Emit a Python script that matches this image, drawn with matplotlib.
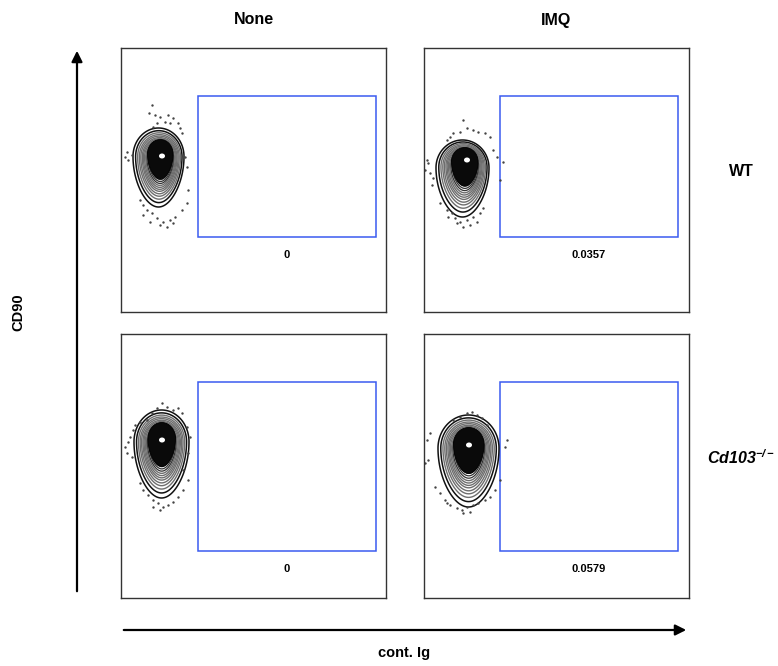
import numpy as np
import matplotlib.pyplot as plt
from matplotlib.patches import Rectangle, Polygon, Ellipse

plt.rcParams['font.family'] = ['Liberation Sans', 'DejaVu Sans']
plt.rcParams['font.weight'] = 'bold'
plt.rcParams['mathtext.fontset'] = 'custom'
plt.rcParams['mathtext.it'] = 'Liberation Sans:bold:italic'
plt.rcParams['mathtext.rm'] = 'Liberation Sans:bold:italic'

# panel layout info (columns / rows)
col_labels = ['None', 'IMQ']
row_labels = ['WT', r'$\mathit{Cd103}^{-/-}$']
pct_labels = [['0', '0.0357'], ['0', '0.0579']]

# gate boxes in panel units (x0, y0, x1, y1), y measured from panel top
gates = [[(77, 48, 255, 189), (76, 48, 254, 189)],
         [(77, 48, 255, 217), (76, 48, 254, 217)]]

# outer contour of the population: (x_left, x_right, y_top, y_bottom)
outer = [[(12, 63, 80, 159), (12, 65, 92, 169)],
         [(13, 68, 76, 164), (14, 75, 81, 173)]]
# densest point of the population
core = [[(41, 110), (43, 114)],
        [(41, 108), (45, 113)]]

# outlier events around each population
dots_tl = [(31, 57), (28, 65), (34, 67), (39, 69), (47, 67), (52, 70), (44, 74), (49, 75),
           (57, 75), (36, 75), (32, 79), (59, 80), (61, 85), (6, 104), (4, 109), (7, 112),
           (11, 107), (64, 109), (66, 119), (19, 152), (22, 157), (26, 162), (31, 165),
           (36, 170), (42, 174), (49, 172), (54, 169), (61, 162), (66, 155), (39, 177),
           (46, 179), (29, 174), (22, 167), (52, 175), (67, 142)]
dots_tr = [(39, 72), (29, 85), (36, 84), (43, 80), (49, 82), (54, 84), (61, 85), (66, 89),
           (26, 89), (23, 92), (3, 112), (4, 115), (1, 122), (6, 125), (9, 130), (8, 137),
           (69, 102), (73, 109), (76, 132), (79, 114), (16, 155), (23, 162), (28, 165),
           (31, 170), (36, 174), (43, 172), (49, 169), (56, 165), (59, 160), (39, 179),
           (46, 177), (33, 175), (24, 169), (53, 174)]
dots_bl = [(41, 69), (46, 73), (36, 74), (52, 76), (57, 74), (61, 79), (31, 79), (26, 86),
           (19, 88), (14, 91), (12, 96), (9, 103), (7, 108), (4, 113), (6, 119), (11, 123),
           (66, 93), (69, 103), (67, 119), (62, 136), (19, 149), (22, 156), (27, 161),
           (32, 166), (37, 169), (42, 173), (47, 171), (52, 168), (57, 163), (62, 156),
           (39, 176), (32, 173), (67, 146)]
dots_br = [(43, 79), (48, 78), (53, 81), (36, 83), (29, 86), (58, 84), (63, 91), (6, 99),
           (3, 106), (4, 126), (1, 129), (83, 106), (81, 113), (16, 159), (21, 166),
           (26, 171), (33, 174), (38, 176), (43, 173), (49, 171), (54, 169), (61, 166),
           (66, 163), (71, 156), (23, 169), (39, 179), (46, 178), (11, 153), (76, 146)]
dots = [[dots_tl, dots_tr], [dots_bl, dots_br]]

# relative size of each contour level (outer -> inner)
levels = [1.0, 0.91, 0.84, 0.78, 0.73, 0.68, 0.64, 0.60, 0.56, 0.52, 0.48, 0.44]

W, H = 778, 666
fig = plt.figure(figsize=(W / 100, H / 100), dpi=100)

# background axes in pixel coords for arrows and labels
bg = fig.add_axes([0, 0, 1, 1])
bg.set_xlim(0, W)
bg.set_ylim(H, 0)
bg.axis('off')

bg.annotate('', xy=(77, 48), xytext=(77, 594),
            arrowprops=dict(arrowstyle='-|>', lw=1.6, color='black', mutation_scale=16))
bg.annotate('', xy=(689, 630), xytext=(121, 630),
            arrowprops=dict(arrowstyle='-|>', lw=1.6, color='black', mutation_scale=16))
bg.text(18, 312, 'CD90', rotation=90, ha='center', va='center', fontsize=10.5)
bg.text(404, 653, 'cont. Ig', ha='center', va='center', fontsize=10.5)

panel_x = [121, 424]
panel_y = [48, 334]
pw, ph = 265, 264

for j, lab in enumerate(col_labels):
    bg.text(panel_x[j] + pw / 2, 20, lab, ha='center', va='center', fontsize=11.5)
bg.text(741, 172, row_labels[0], ha='center', va='center', fontsize=11.5)
bg.text(741, 458, row_labels[1], ha='center', va='center', fontsize=11.5)


def egg(cx, hw, top, bot, f, kx, ky):
    # scaled egg-shaped contour around the core point
    cx_i = kx + f * (cx - kx)
    top_i = ky - f * (ky - top)
    bot_i = ky + f * (bot - ky)
    hw_i = f * hw
    yw = top_i + 0.36 * (bot_i - top_i)
    t = np.linspace(0, 2 * np.pi, 160)
    s = np.sin(t)
    x = np.where(s >= 0, cx_i + hw_i * np.cos(t),
                 cx_i + hw_i * np.cos(t) * (1 - 0.1 * s ** 2))
    y = np.where(s >= 0, yw - (yw - top_i) * s, yw - (bot_i - yw) * s)
    return np.column_stack([x, y])


for r in range(2):
    for c in range(2):
        ax = fig.add_axes([panel_x[c] / W, 1 - (panel_y[r] + ph) / H, pw / W, ph / H])
        ax.set_xlim(0, pw)
        ax.set_ylim(ph, 0)
        ax.set_xticks([])
        ax.set_yticks([])
        for sp in ax.spines.values():
            sp.set_color('#333333')
            sp.set_linewidth(1.0)

        x0, y0, x1, y1 = gates[r][c]
        ax.add_patch(Rectangle((x0, y0), x1 - x0, y1 - y0, fill=False,
                               edgecolor='#3a5bf0', lw=1.1))
        ax.text((x0 + x1) / 2, y1 + 18, pct_labels[r][c], ha='center', va='center',
                fontsize=8)

        xl, xr, top, bot = outer[r][c]
        kx, ky = core[r][c]
        cx, hw = (xl + xr) / 2, (xr - xl) / 2

        for i, f in enumerate(levels):
            pts = egg(cx, hw, top, bot, f, kx, ky)
            if i < 2:
                col, lw = '#111111', 1.1
            elif i < 9:
                col, lw = '#6e6e6e', 1.0
            else:
                col, lw = '#333333', 0.9
            ax.add_patch(Polygon(pts, closed=True, fill=False, edgecolor=col, lw=lw))

        # dense dark core with a light spot at the peak
        core_pts = egg(cx, hw, top, bot, 0.5, kx, ky - 7)
        ax.add_patch(Polygon(core_pts, closed=True, facecolor='#0a0a0a',
                             edgecolor='black', lw=0.6))
        ax.add_patch(Ellipse((kx, ky - 2), 6, 5, facecolor='white', edgecolor='none'))

        d = np.array(dots[r][c])
        ax.scatter(d[:, 0], d[:, 1], s=3, color='#444444', linewidths=0)

fig.savefig('out.png', dpi=100)
